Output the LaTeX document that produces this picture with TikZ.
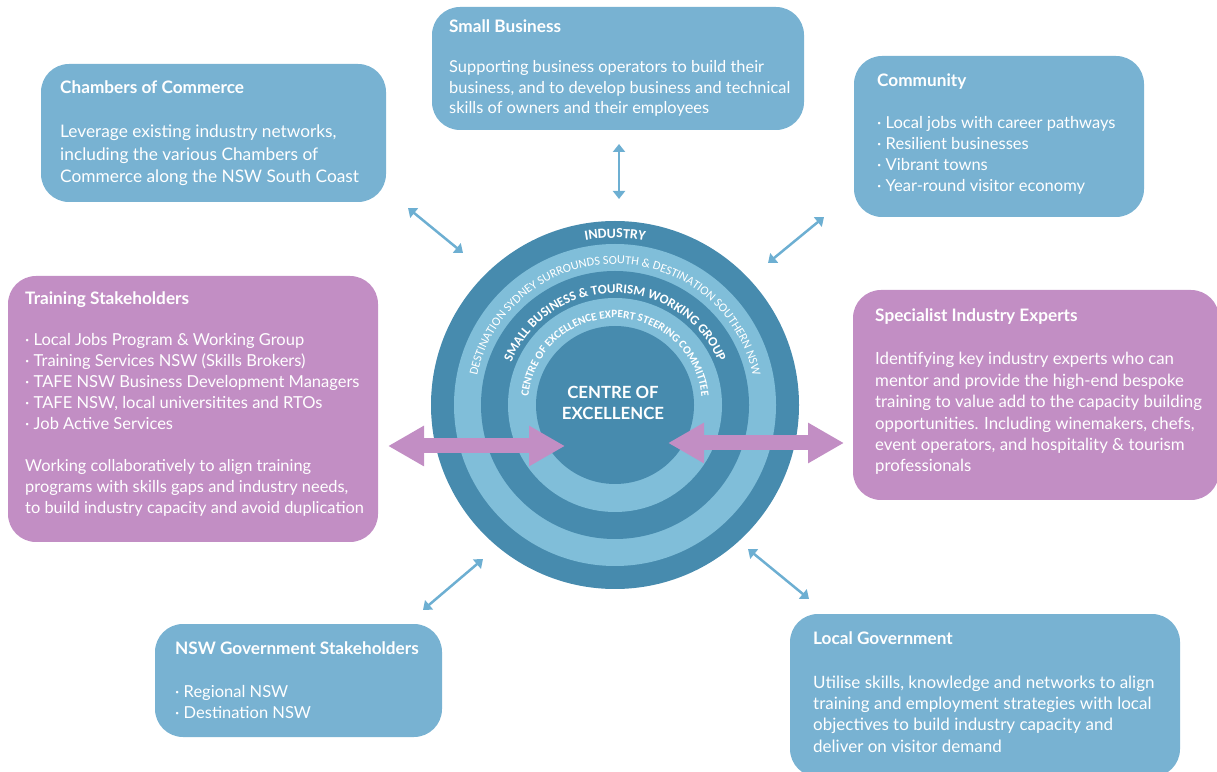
\documentclass[tikz,border=0pt]{standalone}
\usepackage{fontspec}
\setmainfont{Lato}
\newfontfamily\ringfont{Carlito}
\usetikzlibrary{arrows.meta,decorations.text}
\definecolor{boxblue}{HTML}{78B2D2}
\definecolor{boxpurple}{HTML}{C28EC4}
\definecolor{ringdark}{HTML}{478BAE}
\definecolor{ringlight}{HTML}{80BED9}
\definecolor{arrowblue}{HTML}{6DAFD2}
\begin{document}
\begin{tikzpicture}[x=1pt,y=1pt,
  bluebox/.style={rectangle, rounded corners=28pt, fill=boxblue, inner sep=0pt},
  purplebox/.style={rectangle, rounded corners=28pt, fill=boxpurple, inner sep=0pt},
  ttl/.style={anchor=base west, inner sep=0pt, text=white, font=\fontsize{17.2}{20}\selectfont\bfseries},
  body/.style 2 args={anchor=base west, inner sep=0pt, text=white, font=\fontsize{#1}{#2}\selectfont},
  smallarrow/.style={draw=arrowblue, line width=2.5pt, {Triangle[length=8pt,width=12pt]}-{Triangle[length=8pt,width=12pt]}},
  bigarrow/.style={draw=boxpurple, line width=15pt, {Triangle[length=36pt,width=38pt]}-{Triangle[length=36pt,width=38pt]}},
  ringtext/.style={decorate, decoration={text along path, text align=center, text color=white, text={#1}}}
]
\clip (0,0) rectangle (1217,771);

% ---------------- boxes ----------------
\node[bluebox, minimum width=345pt, minimum height=138pt] (chambers) at (213.5,638) {};
\node[bluebox, minimum width=372pt, minimum height=123pt] (smallbiz) at (618,702.5) {};
\node[bluebox, minimum width=290pt, minimum height=161pt] (community) at (999,634.5) {};
\node[purplebox, minimum width=370pt, minimum height=266pt] (training) at (193,362) {};
\node[purplebox, minimum width=366pt, minimum height=210pt] (specialist) at (1036,376) {};
\node[bluebox, minimum width=287pt, minimum height=113pt] (nswgov) at (298.5,90.5) {};
\node[bluebox, minimum width=390pt, minimum height=163pt] (localgov) at (985,75.5) {};

% ---------------- texts ----------------
\node[ttl] (chambersT) at (60,677) {Chambers of Commerce};
\node[body={17.3}{22.5}] (chambersB) at (60,633) {\begin{tabular}[t]{@{}l@{}}Leverage existing industry networks,\\ including the various Chambers of\\ Commerce along the NSW South Coast\end{tabular}};

\node[ttl] (smallbizT) at (449,738) {Small Business};
\node[body={16.4}{20.5}] (smallbizB) at (449,698) {\begin{tabular}[t]{@{}l@{}}Supporting business operators to build their\\ business, and to develop business and technical\\ skills of owners and their employees\end{tabular}};

\node[ttl] (communityT) at (877,684) {Community};
\node[body={16.5}{21}] (communityB) at (877,642) {\begin{tabular}[t]{@{}l@{}}· Local jobs with career pathways\\ · Resilient businesses\\ · Vibrant towns\\ · Year-round visitor economy\end{tabular}};

\node[ttl] (trainingT) at (25,466) {Training Stakeholders};
\node[body={16.5}{21}] (trainingB) at (25,425) {\begin{tabular}[t]{@{}l@{}}· Local Jobs Program \& Working Group\\ · Training Services NSW (Skills Brokers)\\ · TAFE NSW Business Development Managers\\ · TAFE NSW, local universitites and RTOs\\ · Job Active Services\end{tabular}};
\node[body={16.4}{21}] (trainingP) at (25,299) {\begin{tabular}[t]{@{}l@{}}Working collaboratively to align training\\ programs with skills gaps and industry needs,\\ to build industry capacity and avoid duplication\end{tabular}};

\node[ttl] (specialistT) at (875,449) {Specialist Industry Experts};
\node[body={16.8}{21.4}] (specialistB) at (875,406) {\begin{tabular}[t]{@{}l@{}}Identifying key industry experts who can\\ mentor and provide the high-end bespoke\\ training to value add to the capacity building\\ opportunities. Including winemakers, chefs,\\ event operators, and hospitality \& tourism\\ professionals\end{tabular}};

\node[ttl] (nswgovT) at (175,117) {NSW Government Stakeholders};
\node[body={16.5}{21}] (nswgovB) at (175,74) {\begin{tabular}[t]{@{}l@{}}· Regional NSW\\ · Destination NSW\end{tabular}};

\node[ttl] (localgovT) at (813,127) {Local Government};
\node[body={17}{21.4}] (localgovB) at (813,83) {\begin{tabular}[t]{@{}l@{}}Utilise skills, knowledge and networks to align\\ training and employment strategies with local\\ objectives to build industry capacity and\\ deliver on visitor demand\end{tabular}};

% ---------------- central circle ----------------
\coordinate (C) at (615,366);
\fill[ringdark] (C) circle[radius=184pt];
\fill[ringlight] (C) circle[radius=161pt];
\fill[ringdark] (C) circle[radius=134pt];
\fill[ringlight] (C) circle[radius=107pt];
\fill[ringdark] (C) circle[radius=79pt];

\path[ringtext={|\ringfont\fontsize{14}{14}\selectfont\bfseries|INDUSTRY}]
  (C) ++(150:167pt) arc[start angle=150, end angle=30, radius=167pt];
\path[ringtext={|\ringfont\fontsize{12.3}{13}\selectfont|DESTINATION SYDNEY SURROUNDS SOUTH {\&} DESTINATION SOUTHERN NSW}]
  (C) ++(178:141pt) arc[start angle=178, end angle=2, radius=141pt];
\path[ringtext={|\ringfont\fontsize{13.2}{14}\selectfont\bfseries|SMALL BUSINESS {\&} TOURISM WORKING GROUP}]
  (C) ++(178:112pt) arc[start angle=178, end angle=2, radius=112pt];
\path[ringtext={|\ringfont\fontsize{11.2}{12}\selectfont\bfseries|CENTRE OF EXCELLENCE EXPERT STEERING COMMITTEE}]
  (C) ++(200:87pt) arc[start angle=200, end angle=-20, radius=87pt];

\node[text=white, align=center, inner sep=0pt, font=\fontsize{16.8}{21}\selectfont\bfseries] (coe) at (613,368) {CENTRE OF\\EXCELLENCE};

% ---------------- big arrows ----------------
\coordinate (bl1) at (388,325);
\coordinate (bl2) at (565,325);
\coordinate (br1) at (668,328);
\coordinate (br2) at (844,328);
\draw[bigarrow] (bl1) -- (bl2);
\draw[bigarrow] (br1) -- (br2);

% ---------------- small arrows ----------------
\coordinate (s1a) at (408,563); \coordinate (s1b) at (463,518);
\coordinate (s2a) at (619,627); \coordinate (s2b) at (619,572);
\coordinate (s3a) at (824,554); \coordinate (s3b) at (768,508);
\coordinate (s4a) at (483,212); \coordinate (s4b) at (423,161);
\coordinate (s5a) at (748,222); \coordinate (s5b) at (809,172);
\draw[smallarrow] (s1a) -- (s1b);
\draw[smallarrow] (s2a) -- (s2b);
\draw[smallarrow] (s3a) -- (s3b);
\draw[smallarrow] (s4a) -- (s4b);
\draw[smallarrow] (s5a) -- (s5b);
\end{tikzpicture}
\end{document}
